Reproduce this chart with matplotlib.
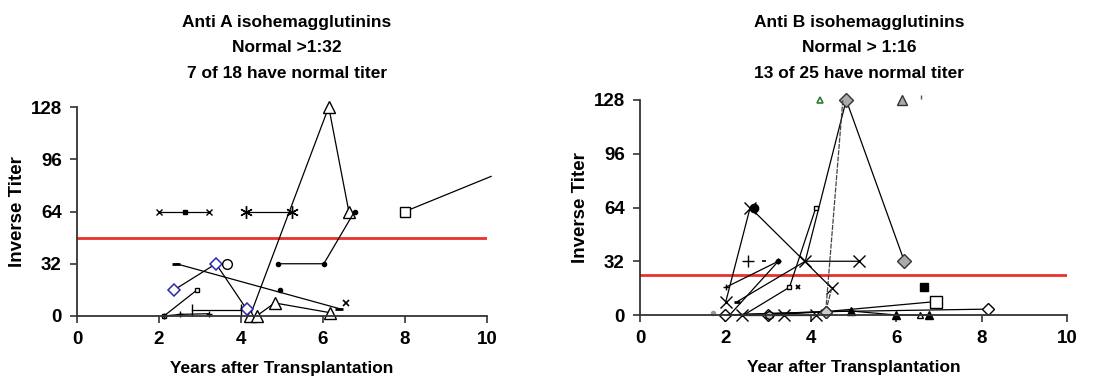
import matplotlib
matplotlib.use("Agg")
import matplotlib.pyplot as plt

plt.rcParams["font.family"] = ["Liberation Sans", "DejaVu Sans"]
plt.rcParams["font.weight"] = "bold"

W, H = 1109, 378

# Anti A panel (years, inverse titer)
A_X64_X = [2.0, 3.22]
A_X64_Y = [64, 64]
A_DOT64 = (2.64, 64)
A_AST_X = [4.11, 5.24]
A_AST_Y = [64, 64]
A_TRI1_X = [4.22, 6.14, 6.63]
A_TRI1_Y = [0, 128, 64]
A_TRI2_X = [4.38, 4.82, 6.18]
A_TRI2_Y = [0, 8, 2]
A_DOT_X = [4.91, 6.02, 6.77]
A_DOT_Y = [32, 32, 64]
A_DOT16 = (4.96, 16)
A_DASH_X = [2.42, 6.4]
A_DASH_Y = [32, 4.5]
A_SMALLX = (6.57, 8)
A_DIA_X = [2.37, 3.39, 4.14]
A_DIA_Y = [16, 32, 4]
A_CIRC = (3.66, 32)
A_SQS_X = [2.12, 2.93]
A_SQS_Y = [0, 16]
A_PLUS_X = [2.81, 4.01]
A_PLUS_Y = [3.5, 3.5]
A_LOW_X = [2.12, 2.52, 3.22]
A_LOW_Y = [0, 1, 1.4]
A_SQB_X = [8.0, 10.1]
A_SQB_Y = [64, 85.5]
A_NORMAL = 48

# Anti B panel
B_X1_X = [2.01, 2.58, 4.49]
B_X1_Y = [8, 64, 16]
B_CIRC64 = (2.66, 64)
B_P1_X = [2.01, 3.24]
B_P1_Y = [16.5, 32]
B_P2_X = [2.28, 3.87, 5.12]
B_P2_Y = [8, 32, 32]
B_P3_X = [2.1, 3.24]
B_P3_Y = [0, 32]
B_SQS_X = [2.43, 3.5, 4.12]
B_SQS_Y = [0, 16.5, 64]
B_GDIA_X = [3.87, 4.83, 6.19]
B_GDIA_Y = [32, 128, 32]
B_P4_X = [4.49, 4.35, 4.75]
B_P4_Y = [16, 2, 128]
B_Z1_X = [2.0, 4.35, 6.93]
B_Z1_Y = [0, 2, 8]
B_Z2_X = [2.0, 3.0, 4.35, 8.14]
B_Z2_Y = [0, 0, 2, 3.5]
B_Z3_X = [2.0, 4.93, 6.0, 6.76]
B_Z3_Y = [0, 2.4, 0, 0]
B_Z4_X = [2.38, 3.38, 4.12]
B_Z4_Y = [0, 0, 0]
B_PLUS32 = (2.52, 32)
B_MINUS32 = (2.91, 32)
B_SMALLX = (3.69, 16.5)
B_FSQ = (6.65, 16.9)
B_OTRI = (6.56, 0)
B_GREEN_TRI = (4.22, 128)
B_GRAY_TRI = (6.13, 128)
B_TICKMARK = (6.59, 130)
B_GRAYDOT = (1.7, 1)
B_HEX = (3.03, 0)
B_NORMAL = 24

LINE = dict(color="black", linewidth=0.9, clip_on=False)


def style_axes(ax, xlabel):
    ax.set_xlim(0, 10)
    ax.set_ylim(0, 128)
    ax.set_xticks([0, 2, 4, 6, 8, 10])
    ax.set_yticks([0, 32, 64, 96, 128])
    for side in ("top", "right"):
        ax.spines[side].set_visible(False)
    for side in ("left", "bottom"):
        ax.spines[side].set_color("#333333")
        ax.spines[side].set_linewidth(1.3)
    ax.tick_params(direction="out", length=5, width=1.2, color="#333333",
                   labelsize=13.5, pad=6)
    for lab in ax.get_xticklabels() + ax.get_yticklabels():
        lab.set_fontweight("bold")
    ax.set_xlabel(xlabel, fontsize=12.5, fontweight="bold", labelpad=9)
    ax.set_ylabel("Inverse Titer", fontsize=13.5, fontweight="bold", labelpad=3)


def draw_anti_a(ax):
    ax.axhline(A_NORMAL, color="#e8302c", linewidth=2, zorder=1)
    ax.plot(A_X64_X, A_X64_Y, marker="x", ms=4, mew=1, **LINE)
    ax.plot(*A_DOT64, marker="s", ms=2.5, color="black", clip_on=False)
    ax.plot(A_AST_X, A_AST_Y, marker=(6, 2, 0), ms=9, mew=1, **LINE)
    ax.plot(A_TRI1_X, A_TRI1_Y, marker="^", ms=8, mfc="white", mec="black", **LINE)
    ax.plot(A_TRI2_X, A_TRI2_Y, marker="^", ms=8, mfc="white", mec="black", **LINE)
    ax.plot(A_DOT_X, A_DOT_Y, marker="o", ms=3, **LINE)
    ax.plot(*A_DOT16, marker="o", ms=3, color="black", clip_on=False)
    ax.plot(A_DASH_X, A_DASH_Y, marker="_", ms=6, mew=2, **LINE)
    ax.plot(*A_SMALLX, marker="x", ms=4, mew=1.2, color="black", clip_on=False)
    ax.plot(A_DIA_X, A_DIA_Y, marker="D", ms=6, mfc="white", mec="#2a2ab0",
            mew=1.1, **LINE)
    ax.plot(*A_CIRC, marker="o", ms=7, mfc="white", mec="black", clip_on=False)
    ax.plot(A_SQS_X, A_SQS_Y, marker="s", ms=3.5, mfc="white", mec="black", **LINE)
    ax.plot(A_PLUS_X, A_PLUS_Y, marker="|", ms=8, mew=1, **LINE)
    ax.plot(A_LOW_X, A_LOW_Y, marker="+", ms=4, **LINE)
    ax.plot(A_SQB_X, A_SQB_Y, marker="s", ms=7, mfc="white", mec="black",
            markevery=[0], **LINE)


def draw_anti_b(ax):
    ax.axhline(B_NORMAL, color="#e8302c", linewidth=2, zorder=1)
    ax.plot(B_Z1_X, B_Z1_Y, marker="s", ms=8, mfc="white", mec="black",
            markevery=[2], **LINE)
    ax.plot(B_Z2_X, B_Z2_Y, marker="D", ms=6, mfc="white", mec="black", **LINE)
    ax.plot(B_Z3_X, B_Z3_Y, marker="^", ms=6, markevery=[1, 2, 3], **LINE)
    ax.plot(B_Z4_X, B_Z4_Y, marker="x", ms=8, mew=1, **LINE)
    ax.plot(B_X1_X, B_X1_Y, marker="x", ms=9, mew=1, **LINE)
    ax.plot(*B_CIRC64, marker="o", ms=6, color="black", clip_on=False)
    ax.plot(B_P1_X, B_P1_Y, marker="+", ms=5, **LINE)
    ax.plot(B_P2_X, B_P2_Y, marker="x", ms=9, mew=1, markevery=[1, 2], **LINE)
    ax.plot(B_P2_X[0], B_P2_Y[0], marker="_", ms=5, mew=2, color="black",
            clip_on=False)
    ax.plot(B_P3_X, B_P3_Y, marker="o", ms=3, markevery=[1], **LINE)
    ax.plot(B_SQS_X, B_SQS_Y, marker="s", ms=3.5, mfc="white", mec="black",
            markevery=[1, 2], **LINE)
    ax.plot(B_GDIA_X, B_GDIA_Y, marker="D", ms=7, mfc="#aaaaaa", mec="#333333",
            markevery=[1, 2], **LINE)
    ax.plot(B_P4_X, B_P4_Y, marker="D", ms=6, mfc="#cccccc", mec="#333333",
            markevery=[1], color="#444444", linewidth=0.9, linestyle=(0, (4, 1)),
            clip_on=False)
    ax.plot(*B_PLUS32, marker="+", ms=9, mew=1, color="black", clip_on=False)
    ax.plot(*B_MINUS32, marker="_", ms=3, mew=1.2, color="black", clip_on=False)
    ax.plot(*B_SMALLX, marker="x", ms=3.5, mew=1.3, color="black", clip_on=False)
    ax.plot(*B_FSQ, marker="s", ms=6, color="black", clip_on=False)
    ax.plot(*B_OTRI, marker="^", ms=4, mfc="white", mec="black", clip_on=False)
    ax.plot(*B_GREEN_TRI, marker="^", ms=5, mfc="white", mec="#2e7d32",
            mew=1.2, clip_on=False)
    ax.plot(*B_GRAY_TRI, marker="^", ms=7, mfc="#aaaaaa", mec="#333333",
            clip_on=False)
    ax.plot(*B_TICKMARK, marker="|", ms=3, color="#555555", clip_on=False)
    ax.plot(*B_GRAYDOT, marker="o", ms=3, color="#999999", clip_on=False)
    ax.plot(*B_HEX, marker="h", ms=6, mfc="#bbbbbb", mec="black", clip_on=False)


def title_lines(x, lines):
    for y_px, text in zip([23, 48, 73], lines):
        fig.text(x, 1 - y_px / H, text, ha="center", va="center",
                 fontsize=12.5, fontweight="bold")


fig = plt.figure(figsize=(W / 100, H / 100), dpi=100)
ax_a = fig.add_axes([77 / W, 1 - 316 / H, 410 / W, 209 / H])
ax_b = fig.add_axes([640 / W, 1 - 315 / H, 427 / W, 215 / H])

draw_anti_a(ax_a)
draw_anti_b(ax_b)
style_axes(ax_a, "Years after Transplantation")
style_axes(ax_b, "Year after Transplantation")

title_lines(287 / W, ["Anti A isohemagglutinins", "Normal >1:32",
                      "7 of 18 have normal titer"])
title_lines(859 / W, ["Anti B isohemagglutinins", "Normal > 1:16",
                      "13 of 25 have normal titer"])

fig.savefig("out.png", dpi=100)
